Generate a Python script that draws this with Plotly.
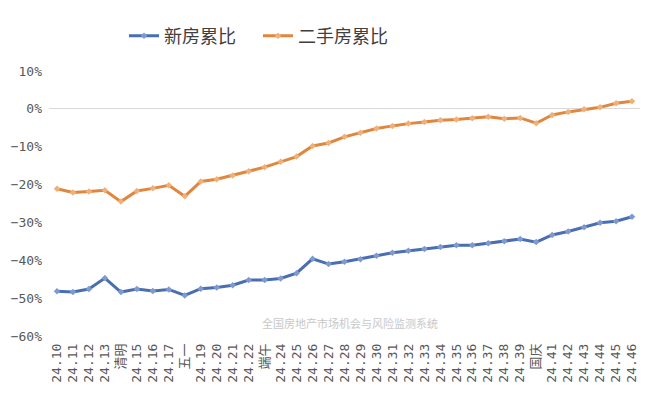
import plotly.graph_objects as go

categories = ["24.10", "24.11", "24.12", "24.13", "清明", "24.15", "24.16", "24.17", "五一",
              "24.19", "24.20", "24.21", "24.22", "端午", "24.24", "24.25", "24.26", "24.27",
              "24.28", "24.29", "24.30", "24.31", "24.32", "24.33", "24.34", "24.35", "24.36",
              "24.37", "24.38", "24.39", "国庆", "24.41", "24.42", "24.43", "24.44", "24.45", "24.46"]

new_home = [-48.2, -48.4, -47.6, -44.7, -48.4, -47.6, -48.1, -47.7, -49.3,
            -47.5, -47.2, -46.6, -45.2, -45.2, -44.8, -43.4, -39.6, -41.0,
            -40.4, -39.7, -38.8, -38.0, -37.5, -37.0, -36.5, -36.0, -36.0,
            -35.5, -35.0, -34.4, -35.2, -33.3, -32.4, -31.3, -30.1, -29.7, -28.5]

resale_home = [-21.1, -22.1, -21.8, -21.5, -24.5, -21.7, -21.0, -20.2, -23.1,
               -19.2, -18.6, -17.6, -16.5, -15.4, -14.0, -12.6, -9.8, -9.0,
               -7.4, -6.3, -5.2, -4.5, -3.9, -3.5, -3.0, -2.8, -2.5,
               -2.1, -2.6, -2.4, -3.8, -1.6, -0.8, -0.1, 0.4, 1.5, 2.0]

y_ticks = [10, 0, -10, -20, -30, -40, -50, -60]
y_tick_labels = ["10%", "0%", "−10%", "−20%", "−30%", "−40%", "−50%", "−60%"]

FONT = "Noto Sans CJK SC"
TICK_FONT = "DejaVu Sans Mono, Noto Sans CJK SC"
W, H = 643, 390
L, R, T, B = 41, 11, 63, 62
PW, PH = W - L - R, H - T - B

fig = go.Figure()
fig.add_trace(go.Scatter(
    x=categories, y=new_home, name="新房累比", mode="lines+markers",
    line=dict(color="#4A6FB0", width=3),
    marker=dict(symbol="diamond", size=5, color="#7F9AD0", line=dict(width=0)),
    legend="legend",
))
fig.add_trace(go.Scatter(
    x=categories, y=resale_home, name="二手房累比", mode="lines+markers",
    line=dict(color="#E0873D", width=3),
    marker=dict(symbol="diamond", size=5, color="#F0B07A", line=dict(width=0)),
    legend="legend2",
))

legend_common = dict(
    orientation="h", xref="container", yref="container",
    xanchor="left", y=1 - 28 / H, yanchor="middle",
    font=dict(family=FONT, size=18, color="#404040"),
    bgcolor="rgba(0,0,0,0)", itemwidth=30,
)

fig.update_layout(
    width=W, height=H,
    margin=dict(l=L, r=R, t=T, b=B, autoexpand=False),
    paper_bgcolor="white", plot_bgcolor="white",
    font=dict(family=FONT, color="#595959", size=12),
    showlegend=True,
    legend=dict(x=116 / W, **legend_common),
    legend2=dict(x=250 / W, **legend_common),
    xaxis=dict(
        type="category", range=[-0.5, len(categories) - 0.5],
        tickmode="linear", tick0=0, dtick=1, automargin=False,
        tickangle=-90, tickfont=dict(family=TICK_FONT, size=13, color="#595959"),
        ticklabelstandoff=4,
        showgrid=False, showline=False, ticks="", zeroline=False,
    ),
    yaxis=dict(
        range=[-60, 10], tickvals=y_ticks, ticktext=y_tick_labels, automargin=False,
        tickfont=dict(family=TICK_FONT, size=13, color="#595959"),
        ticklabelstandoff=6,
        showgrid=False, zeroline=True, zerolinecolor="#D9D9D9", zerolinewidth=1,
        showline=False, ticks="",
    ),
    annotations=[dict(
        text="全国房地产市场机会与风险监测系统", xref="paper", yref="paper",
        x=(342 - L) / PW, y=(H - B - 325) / PH, showarrow=False,
        font=dict(family=FONT, size=11, color="#C8C8C8"),
    )],
)

fig.write_html("out.html")
